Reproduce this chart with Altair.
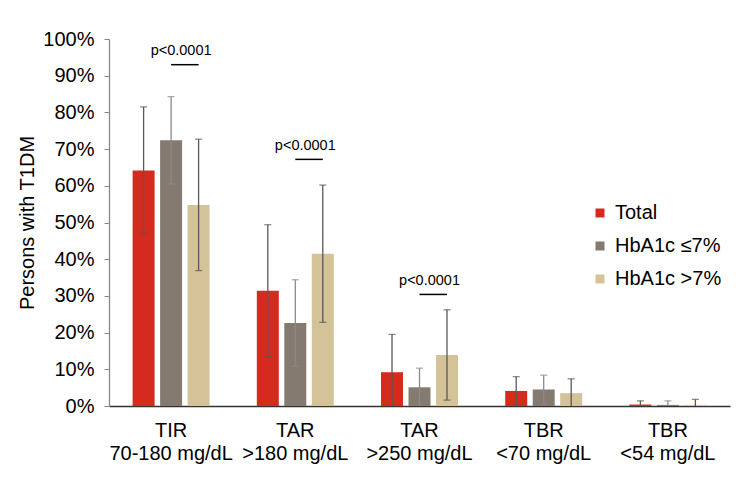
import altair as alt
import pandas as pd

categories = ["TIR|70-180 mg/dL", "TAR|>180 mg/dL", "TAR|>250 mg/dL", "TBR|<70 mg/dL", "TBR|<54 mg/dL"]
series = ["Total", "HbA1c ≤7%", "HbA1c >7%"]
colors = ["#D52B1E", "#857A70", "#D4C298"]
whisker_colors = ["#595959", "#8a8a8a", "#595959"]

total_mean = [64.2, 31.4, 9.2, 4.1, 0.4]
total_sd = [17.3, 18.0, 10.3, 3.9, 1.0]
low_mean = [72.4, 22.6, 5.1, 4.5, 0.3]
low_sd = [11.9, 11.8, 5.2, 3.9, 1.1]
high_mean = [54.8, 41.5, 13.9, 3.5, 0.3]
high_sd = [17.9, 18.7, 12.3, 3.9, 1.5]

p_categories = ["TIR|70-180 mg/dL", "TAR|>180 mg/dL", "TAR|>250 mg/dL"]
p_text = ["p<0.0001", "p<0.0001", "p<0.0001"]
p_line_y = [93.0, 67.2, 30.4]
p_text_y = [96.7, 70.8, 34.0]
y_ticks = [0, 10, 20, 30, 40, 50, 60, 70, 80, 90, 100]

rows = []
for s, means, sds in zip(series, [total_mean, low_mean, high_mean], [total_sd, low_sd, high_sd]):
    for c, m, sd in zip(categories, means, sds):
        rows.append({"cat": c, "series": s, "value": m, "lo": m - sd, "hi": m + sd})
df = pd.DataFrame(rows)

line_rows = []
for c, y in zip(p_categories, p_line_y):
    line_rows.append({"cat": c, "series": series[1], "y": y})
    line_rows.append({"cat": c, "series": series[2], "y": y})
df_line = pd.DataFrame(line_rows)
df_text = pd.DataFrame({"cat": p_categories, "series": [series[1]] * 3, "y": p_text_y, "label": p_text})

FONT = "Liberation Sans"

X_AXIS = alt.Axis(labelExpr="split(datum.value, '|')", labelAngle=0, labelFontSize=20,
                  labelFont=FONT, labelColor="#000000", labelLineHeight=23,
                  labelPadding=14, ticks=False, domainColor="#333333", domainWidth=1.3)
Y_AXIS = alt.Axis(values=y_ticks, labelExpr="datum.value + '%'",
                  labelOverlap=False, labelBound=False,
                  grid=False, labelFontSize=20, labelFont=FONT, labelColor="#000000",
                  titleFontSize=20, titleFont=FONT, titleFontWeight="normal", titleColor="#000000",
                  titlePadding=5, labelPadding=10, tickSize=5, tickColor="#888888",
                  domainColor="#888888", domainWidth=1.3)
x_scale = alt.Scale(paddingInner=0.336, paddingOuter=0.168)
y_scale = alt.Scale(domain=[0, 100])
xo_scale = alt.Scale(paddingInner=0.2, paddingOuter=0.1)


def xe():
    return alt.X("cat:N", sort=categories, title=None, scale=x_scale, axis=X_AXIS)


def xoe():
    return alt.XOffset("series:N", sort=series, scale=xo_scale)


def ye(field):
    return alt.Y(field, scale=y_scale, title="Persons with T1DM", axis=Y_AXIS)


bars = alt.Chart(df).mark_bar().encode(
    x=xe(),
    xOffset=xoe(),
    y=ye("value:Q"),
    color=alt.Color("series:N", sort=series, scale=alt.Scale(domain=series, range=colors),
                    legend=alt.Legend(title=None, orient="none", legendX=481, legendY=164,
                                      symbolType="square", symbolSize=81, symbolStrokeWidth=0,
                                      labelFontSize=20, labelFont=FONT, labelColor="#000000",
                                      rowPadding=13, labelOffset=5, padding=0)),
)

wscale = alt.Scale(domain=series, range=whisker_colors)

whiskers = alt.Chart(df).mark_rule(strokeWidth=1.3, clip=True).encode(
    x=xe(),
    xOffset=xoe(),
    y=ye("lo:Q"),
    y2="hi:Q",
    stroke=alt.Stroke("series:N", sort=series, scale=wscale, legend=None),
)
caps_hi = alt.Chart(df).mark_tick(size=7, thickness=1.3, orient="horizontal", clip=True).encode(
    x=xe(),
    xOffset=xoe(),
    y=ye("hi:Q"),
    color=alt.Color("series:N", sort=series, scale=wscale, legend=None),
)
caps_lo = alt.Chart(df).mark_tick(size=7, thickness=1.3, orient="horizontal", clip=True).encode(
    x=xe(),
    xOffset=xoe(),
    y=ye("lo:Q"),
    color=alt.Color("series:N", sort=series, scale=wscale, legend=None),
)

p_lines = alt.Chart(df_line).mark_line(color="#000000", strokeWidth=1.5).encode(
    x=xe(),
    xOffset=xoe(),
    y=ye("y:Q"),
    detail="cat:N",
)
p_labels = alt.Chart(df_text).mark_text(font=FONT, fontSize=14.5, color="#000000", dx=10, baseline="middle").encode(
    x=xe(),
    xOffset=xoe(),
    y=ye("y:Q"),
    text="label:N",
)

chart = alt.layer(bars, whiskers, caps_hi, caps_lo, p_lines, p_labels).resolve_scale(
    color="independent"
).properties(
    width=621, height=367,
    background="white",
    autosize=alt.AutoSizeParams(type="none"),
    padding={"left": 109, "top": 39, "right": 20, "bottom": 85},
).configure_view(stroke=None)

chart.save("out.html", embed_options={"renderer": "svg", "actions": False})
